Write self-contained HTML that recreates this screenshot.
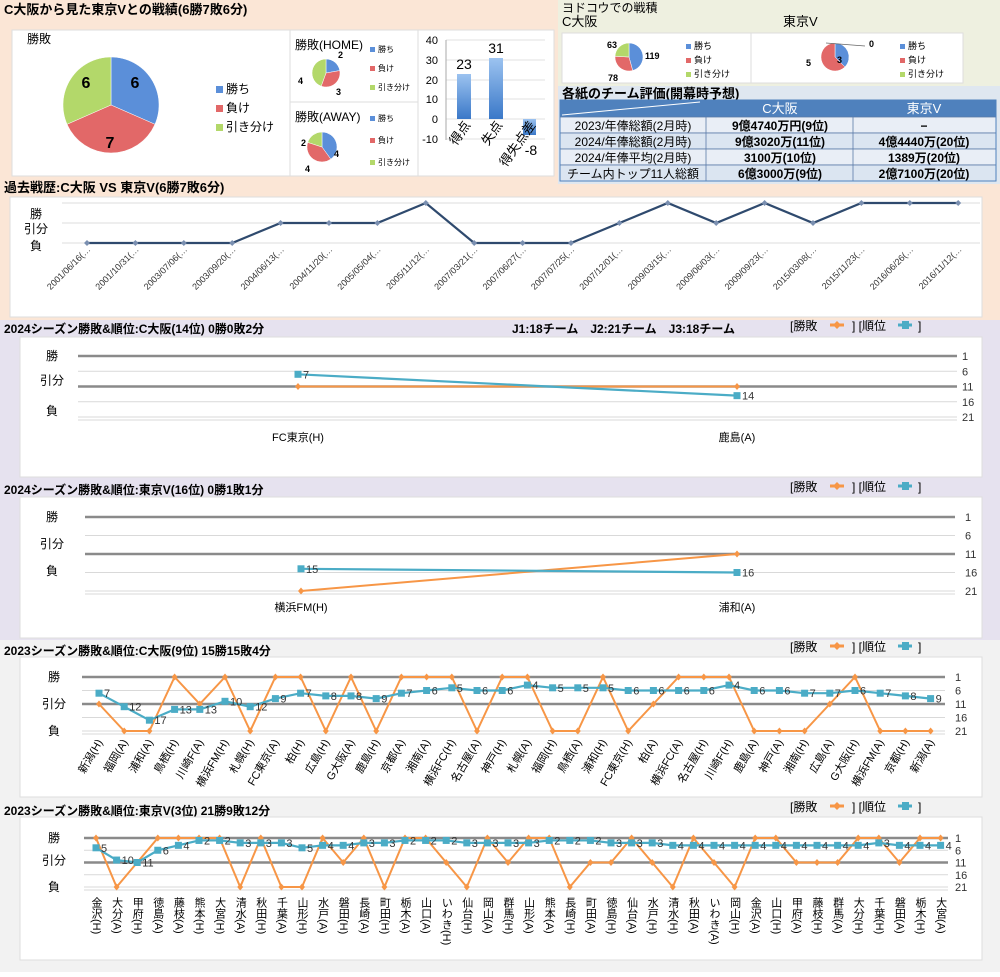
<!DOCTYPE html>
<html><head><meta charset="utf-8">
<style>
html,body{margin:0;padding:0;background:#fff;}
body{width:1000px;height:972px;overflow:hidden;font-family:"Liberation Sans","Noto Sans CJK JP",sans-serif;}
svg text{font-family:"Liberation Sans","Noto Sans CJK JP",sans-serif;}
</style></head>
<body>
<svg id="s" width="1000" height="972" xmlns="http://www.w3.org/2000/svg"></svg>
<script>
const S=[];
function r(x,y,w,h,f,st,sw){S.push(`<rect x="${x}" y="${y}" width="${w}" height="${h}" fill="${f}" ${st?`stroke="${st}" stroke-width="${sw||1}"`:''}/>`);}
function t(x,y,s,sz,o){o=o||{};S.push(`<text x="${x}" y="${y}" font-size="${sz}" fill="${o.c||'#000'}" ${o.a?`text-anchor="${o.a}"`:''} ${o.b?'font-weight="bold"':''} ${o.tr?`transform="${o.tr}"`:''} ${o.st||''}>${s}</text>`);}
function l(x1,y1,x2,y2,c,w){S.push(`<line x1="${x1}" y1="${y1}" x2="${x2}" y2="${y2}" stroke="${c}" stroke-width="${w||1}"/>`);}
function pie(cx,cy,R,vals,cols){let tot=vals.reduce((a,b)=>a+b,0),a=0;vals.forEach((v,i)=>{if(!v)return;let a1=a+v/tot*2*Math.PI;let x0=cx+R*Math.sin(a),y0=cy-R*Math.cos(a),x1=cx+R*Math.sin(a1),y1=cy-R*Math.cos(a1);S.push(`<path d="M${cx},${cy}L${x0},${y0}A${R},${R} 0 ${a1-a>Math.PI?1:0} 1 ${x1},${y1}Z" fill="${cols[i]}" stroke="#fff" stroke-width="0.5"/>`);a=a1;});}
const PC=['#5b8fd9','#e26868','#b3d86a'];
function leg(x,y,sz,gap,sq){['勝ち','負け','引き分け'].forEach((s,i)=>{r(x,y+i*gap-sq,sq,sq,PC[i]);t(x+sq+3,y+i*gap,s,sz);});}

// backgrounds
r(0,0,1000,320,'#fbe6d6');
r(558,0,442,88,'#eef0e0');
r(558,86,442,98,'#dfe7f0');
r(0,320,1000,320,'#e6e2ef');
r(0,640,1000,332,'#f2f2f2');

// top-left
t(4,14,'C大阪から見た東京Vとの戦績(6勝7敗6分)',13,{b:1});
r(12,30,278,146,'#fff','#ddd');
r(290,30,128,72,'#fff','#ddd');r(290,102,128,74,'#fff','#ddd');r(418,30,136,146,'#fff','#ddd');
t(27,43,'勝敗',12);
pie(111,105,48,[6,7,6],PC);
t(135,88,'6',16,{b:1,a:'middle'});t(86,88,'6',16,{b:1,a:'middle'});t(110,148,'7',16,{b:1,a:'middle'});
leg(216,93,12,19,7);
t(295,49,'勝敗(HOME)',12);pie(326,73,14,[2,3,4],PC);
t(338,58,'2',9,{b:1});t(336,95,'3',9,{b:1});t(298,84,'4',9,{b:1});
leg(370,52,8,19,5);
t(295,121,'勝敗(AWAY)',12);pie(322,147,15,[4,4,2],PC);
t(334,157,'4',9,{b:1});t(301,146,'2',9,{b:1});t(305,172,'4',9,{b:1});
leg(370,121,8,22,5);
// bar chart
[[40,40],[30,60],[20,80],[10,99],[0,119],[-10,139]].forEach(([v,y])=>{l(446,y,545,y,'#e0e0e0');t(438,y+4,v,11,{a:'end'});});
l(446,40,446,140,'#aaa');
S.push('<defs><linearGradient id="g" x1="0" y1="0" x2="0" y2="1"><stop offset="0" stop-color="#9cc3f0"/><stop offset="1" stop-color="#3a78c8"/></linearGradient></defs>');
r(457,74,14,45,'url(#g)');r(489,58,14,61,'url(#g)');r(523,119,13,16,'url(#g)');
t(464,69,'23',14,{a:'middle'});t(496,53,'31',14,{a:'middle'});t(531,155,'-8',14,{a:'middle'});
t(0,0,'得点',13,{tr:'translate(471,125) rotate(-55)',a:'end'});
t(0,0,'失点',13,{tr:'translate(503,125) rotate(-55)',a:'end'});
t(0,0,'得失点差',13,{tr:'translate(536,125) rotate(-55)',a:'end'});

// top-right
t(562,12,'ヨドコウでの戦積',12);t(562,26,'C大阪',13);t(783,26,'東京V',13);
r(562,33,189,50,'#fff','#ddd');r(751,33,212,50,'#fff','#ddd');
pie(629,57,14,[119,78,63],PC);t(607,48,'63',9,{b:1});t(645,59,'119',9,{b:1});t(608,81,'78',9,{b:1});
leg(686,49,9,14,5);
pie(835,57,14,[3,5,0],PC);t(837,63,'3',9,{b:1});t(806,66,'5',9,{b:1});t(869,47,'0',9,{b:1});l(826,43,865,46,'#666',0.7);
leg(900,49,9,14,5);
t(562,98,'各紙のチーム評価(開幕時予想)',13,{b:1});
r(560,100,436,17,'#4f81bd');
t(780,113,'C大阪',13,{a:'middle',c:'#fff'});t(924,113,'東京V',13,{a:'middle',c:'#fff'});
l(562,115,700,102,'#fff',1);
const rows=[['2023/年俸総額(2月時)','9億4740万円(9位)','−'],['2024/年俸総額(2月時)','9億3020万(11位)','4億4440万(20位)'],['2024/年俸平均(2月時)','3100万(10位)','1389万(20位)'],['チーム内トップ11人総額','6億3000万(9位)','2億7100万(20位)']];
rows.forEach((rw,i)=>{let y=117+i*16;r(560,y,436,16,i%2?'#dbe5f1':'#e9eef6','#5a7aa8',0.8);l(706,y,706,y+16,'#5a7aa8',0.8);l(853,y,853,y+16,'#5a7aa8',0.8);
t(633,y+13,rw[0],12,{a:'middle'});t(780,y+13,rw[1],12,{a:'middle',b:1});t(924,y+13,rw[2],12,{a:'middle',b:1});});
r(560,100,436,81,'none','#4f81bd',1);

// past record
t(4,192,'過去戦歴:C大阪 VS 東京V(6勝7敗6分)',13,{b:1});
r(10,197,972,120,'#fff','#ddd');
[203,223,243].forEach(y=>l(62,y,980,y,'#ddd'));
t(36,218,'勝',12,{a:'middle'});t(36,233,'引分',12,{a:'middle'});t(36,250,'負',12,{a:'middle'});
const dates=['2001/06/16','2001/10/31','2003/07/06','2003/09/20','2004/06/13','2004/11/20','2005/05/04','2005/11/12','2007/03/21','2007/06/27','2007/07/25','2007/12/01','2009/03/15','2009/06/03','2009/09/23','2015/03/08','2015/11/23','2016/06/26','2016/11/12'];
const res='LLLLDDDWLLLDWDWDWWW';
let pts=[];dates.forEach((d,i)=>{let x=87+i*48.4;let y=res[i]=='W'?203:res[i]=='D'?223:243;pts.push([x,y]);
t(0,0,d+'(…',9,{a:'end',tr:`translate(${x+4},${250}) rotate(-45)`,c:'#333'});});
S.push(`<polyline points="${pts.map(p=>p.join(',')).join(' ')}" fill="none" stroke="#2f4a6e" stroke-width="2.2"/>`);
pts.forEach(([x,y])=>S.push(`<path d="M${x},${y-3}L${x+3},${y}L${x},${y+3}L${x-3},${y}Z" fill="#7a8fb0"/>`));

// series charts
function legend(x,y){t(x,y,'[勝敗',12);S.push(`<path d="M${x+40},${y-5}h14" stroke="#f79646" stroke-width="3"/><path d="M${x+47},${y-9}l4,4l-4,4l-4,-4z" fill="#f79646"/>`);t(x+62,y,'] [順位',12);S.push(`<path d="M${x+108},${y-5}h14" stroke="#4bacc6" stroke-width="3"/><rect x="${x+112}" y="${y-9}" width="7" height="8" fill="#4bacc6"/>`);t(x+128,y,']',12);}
function chart(c){
 r(c.bx,c.by,c.bw,c.bh,'#fff','#ddd');
 const Y=v=>c.y1+(v-1)*c.k;
 [1,6,11,16,21].forEach(v=>{let thick=(v==1||v==11);l(c.px0,Y(v),c.px1,Y(v),thick?'#8a8a8a':'#d9d9d9',thick?2.5:1);t(c.rx,Y(v)+4,v,11,{c:'#333'});});
 l(c.px0,Y(21)+3,c.px1,Y(21)+3,'#d9d9d9');
 t(c.lx,Y(1)+4,'勝',12,{a:'middle'});t(c.lx,Y(11)+(c.lo||0)+4,'引分',12,{a:'middle'});t(c.lx,Y(21)+(c.bo||0)+4,'負',12,{a:'middle'});
 const X=i=>c.x0+i*c.dx;
 const o=c.res.split('').map((s,i)=>[X(i),Y(s=='W'?1:s=='D'?11:21)]);
 const b=c.rank.map((v,i)=>[X(i),Y(v)]);
 S.push(`<polyline points="${o.map(p=>p.join(',')).join(' ')}" fill="none" stroke="#f79646" stroke-width="2"/>`);
 o.forEach(([x,y])=>S.push(`<path d="M${x},${y-3.5}L${x+3},${y}L${x},${y+3.5}L${x-3},${y}Z" fill="#f79646"/>`));
 S.push(`<polyline points="${b.map(p=>p.join(',')).join(' ')}" fill="none" stroke="#4bacc6" stroke-width="2.2"/>`);
 b.forEach(([x,y],i)=>{S.push(`<rect x="${x-3.5}" y="${y-3.5}" width="7" height="7" fill="#4bacc6"/>`);t(x+5,y+4,c.rank[i],11,{c:'#333'});});
 c.labels.forEach((s,i)=>{let x=X(i);
  if(c.vert){S.push(`<text x="${x}" y="${c.ly}" font-size="11" fill="#000" style="writing-mode:vertical-rl;glyph-orientation-vertical:0" >${s}</text>`);}
  else if(c.rot){t(0,0,s,11,{a:'end',tr:`translate(${x+4},${c.ly}) rotate(-60)`});}
  else t(x,c.ly,s,11,{a:'middle'});});
}
t(4,333,'2024シーズン勝敗&順位:C大阪(14位) 0勝0敗2分',12,{b:1});
t(512,333,'J1:18チーム　J2:21チーム　J3:18チーム',12,{b:1});
legend(790,330);
chart({bx:20,by:337,bw:962,bh:140,y1:356,k:3.05,px0:78,px1:957,rx:962,lx:52,lo:-6,bo:-6,x0:298,dx:439,res:'DD',rank:[7,14],labels:['FC東京(H)','鹿島(A)'],ly:441});
t(4,494,'2024シーズン勝敗&順位:東京V(16位) 0勝1敗1分',12,{b:1});
legend(790,491);
chart({bx:20,by:497,bw:962,bh:141,y1:517,k:3.7,px0:85,px1:955,rx:965,lx:52,lo:-10,bo:-20,x0:301,dx:436,res:'LD',rank:[15,16],labels:['横浜FM(H)','浦和(A)'],ly:611});
t(4,655,'2023シーズン勝敗&順位:C大阪(9位) 15勝15敗4分',12,{b:1});
legend(790,651);
const cl=['新潟(H)','福岡(A)','浦和(A)','鳥栖(H)','川崎F(A)','横浜FM(H)','札幌(H)','FC東京(A)','柏(H)','広島(H)','G大阪(A)','鹿島(H)','京都(A)','湘南(A)','横浜FC(H)','名古屋(A)','神戸(H)','札幌(A)','福岡(H)','鳥栖(A)','浦和(H)','FC東京(H)','柏(A)','横浜FC(A)','名古屋(H)','川崎F(H)','鹿島(A)','神戸(A)','湘南(H)','広島(A)','G大阪(H)','横浜FM(A)','京都(H)','新潟(A)'];
chart({bx:20,by:657,bw:962,bh:140,y1:677,k:2.7,px0:82,px1:945,rx:955,lx:54,x0:99,dx:25.2,res:'DLLWDWLWWLWLWWWLWWLLWLDWWWLLLDWLLL',rank:[7,12,17,13,13,10,12,9,7,8,8,9,7,6,5,6,6,4,5,5,5,6,6,6,6,4,6,6,7,7,6,7,8,9],labels:cl,ly:742,rot:1});
t(4,815,'2023シーズン勝敗&順位:東京V(3位) 21勝9敗12分',12,{b:1});
legend(790,811);
const vl=['金沢(H)','大分(A)','甲府(H)','徳島(A)','藤枝(A)','熊本(H)','大宮(H)','清水(A)','秋田(H)','千葉(A)','山形(H)','水戸(A)','磐田(H)','長崎(A)','町田(H)','栃木(A)','山口(A)','いわき(H)','仙台(H)','岡山(A)','群馬(H)','山形(A)','熊本(A)','長崎(H)','町田(A)','徳島(H)','仙台(A)','水戸(H)','清水(H)','秋田(A)','いわき(A)','岡山(H)','金沢(A)','山口(H)','甲府(A)','藤枝(H)','群馬(A)','大分(H)','千葉(H)','磐田(A)','栃木(H)','大宮(A)'];
chart({bx:20,by:817,bw:962,bh:143,y1:838,k:2.45,px0:84,px1:948,rx:955,lx:54,lo:-2,x0:96,dx:20.6,res:'WLDWWWWLWLLWDWLWWDLWDWWLDDWDLWDLWWDDDWWDWW',rank:[5,10,11,6,4,2,2,3,3,3,5,4,4,3,3,2,2,2,3,3,3,3,2,2,2,3,3,3,4,4,4,4,4,4,4,4,4,4,3,4,4,4],labels:vl,ly:897,vert:1});
document.getElementById('s').innerHTML=S.join('');
</script>
</body></html>
